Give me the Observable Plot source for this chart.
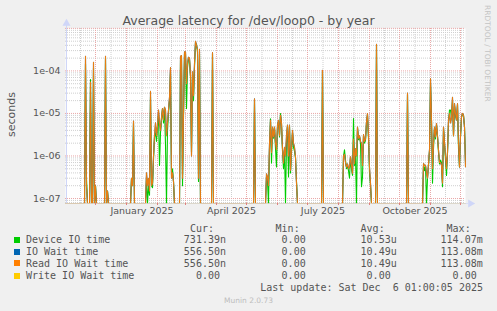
<!DOCTYPE html>
<html><head><meta charset="utf-8">
<script src="https://cdn.jsdelivr.net/npm/d3@7"></script>
<script src="https://cdn.jsdelivr.net/npm/@observablehq/plot@0.6"></script>
<style>
html,body{margin:0;padding:0;background:#f0f0f0;}
#chart{position:relative;width:497px;height:311px;background:#f0f0f0;overflow:hidden;font-family:"DejaVu Sans",sans-serif;color:#555;}
#plot{position:absolute;left:0;top:0;}
.t{position:absolute;white-space:pre;}
.mono{font-family:"DejaVu Sans Mono",monospace;font-size:10px;line-height:12px;color:#555;}
.sw{position:absolute;width:6px;height:6px;}
</style></head><body>
<div id="chart">
  <div id="plot"></div>
  <div class="t" style="left:0;width:497px;text-align:center;top:14px;font-size:12.5px;line-height:13px;color:#555;">Average latency for /dev/loop0 - by year</div>
  <div class="t" style="left:-19px;top:108px;width:60px;text-align:center;font-size:11px;line-height:13px;transform:rotate(-90deg);color:#555;">seconds</div>
  <div class="t" style="left:483px;top:5px;writing-mode:vertical-rl;font-size:7.5px;line-height:9px;color:#c4c4c4;">RRDTOOL / TOBI OETIKER</div>
  <div id="legend"></div>
  <div class="t" style="left:0;width:497px;text-align:center;top:295.6px;font-size:7.5px;line-height:9px;color:#bdbdbd;">Munin 2.0.73</div>
</div>
<script>
// ---- data (day offset from 2024-11-01, one value per day) ----
const days = [
  0,19,20,21,22,24,25,26,27,28,29,30,31,39,40,41,42,43,
  65,66,67,68,69,
  80,81,82,83,84,85,86,87,88,89,90,91,92,93,94,95,96,97,98,99,100,101,102,103,104,105,106,107,108,109,
  114,115,116,117,118,119,120,121,122,123,124,125,126,127,128,129,130,131,132,133,134,135,
  146,147,148,
  188,189,190,
  200,201,202,203,204,205,206,207,208,209,210,211,212,213,214,215,216,217,218,219,220,221,222,223,224,225,226,227,228,229,230,231,232,
  256,257,258,
  277,278,279,280,281,282,283,284,285,286,287,288,289,290,291,292,293,294,295,296,297,298,299,300,301,302,303,304,305,306,
  310,311,312,
  341,342,343,
  357,358,359,360,361,362,363,364,365,366,367,368,369,370,371,372,373,374,375,376,377,378,379,380,381,382,383,384,385,386,387,388,389,390,391,392,393,394,395,396,397,398,399,400
];
const readWait = [
  0,0,2.2e-4,2e-7,0,0,5.5e-5,0,0,1.6e-4,0,2e-7,0,0,2.2e-4,0,1.5e-7,0,
  0,3e-7,2e-7,6.6e-6,0,
  0,4e-7,2e-7,3e-7,1.5e-7,3.3e-5,2e-7,2.3e-7,1e-6,3e-6,6e-6,3e-6,5e-6,1.2e-5,6e-6,4e-6,8e-6,1.3e-5,7e-6,1.4e-5,1.2e-5,3e-6,6e-6,1.2e-5,2.4e-5,1.2e-4,3e-7,4e-7,2.5e-7,0,
  0,2.2e-4,2.3e-4,3e-7,1e-5,2.8e-4,2.8e-4,5e-5,1.5e-4,2.1e-4,2e-4,8e-5,1e-6,9.5e-5,2.6e-5,1.5e-4,5e-4,4e-4,3.2e-4,3e-7,3.2e-4,0,
  0,2.7e-4,0,
  0,2.2e-5,0,
  0,3.8e-7,3.2e-7,2e-7,2e-6,6.9e-6,1.2e-6,4.8e-6,2.8e-6,4.8e-6,2e-6,1.4e-6,5.3e-6,6.9e-6,3e-6,9.1e-6,6e-6,1.5e-6,6.8e-7,1.6e-6,1e-6,3e-6,5.3e-6,1e-6,5.3e-6,4.6e-7,1.5e-6,4e-6,2e-6,1.6e-6,9.5e-7,2.3e-7,0,
  0,1.04e-4,0,
  0,1e-6,1.1e-6,7e-7,5.5e-7,6.5e-7,5e-7,5.5e-7,9.5e-7,6e-7,3.9e-7,2.5e-6,6.6e-7,1.5e-6,1e-6,4.8e-6,2.6e-6,3e-6,2.2e-6,2e-6,6e-7,3.2e-6,2.2e-6,2.5e-6,6.3e-6,1e-5,3e-6,5.5e-7,2.3e-7,0,
  0,4.2e-4,0,
  0,3e-5,0,
  0,6.6e-7,6e-7,6e-7,4e-7,3e-7,6.5e-7,1.4e-6,6.6e-5,7e-6,5e-7,2e-6,4.8e-6,2.8e-6,5.8e-6,3e-6,1.4e-6,7e-7,7e-7,6e-7,2.3e-7,4.8e-6,2e-6,1e-6,5e-7,1.2e-6,7e-6,1e-5,6e-6,8e-6,2.4e-5,3e-6,1.7e-5,1e-5,7e-6,1.7e-5,2e-6,5.5e-7,3e-6,8.3e-6,1e-5,9e-6,4.8e-6,5.565e-7
];
const deviceIO = [
  0,0,1.5e-4,3e-7,0,0,6.3e-5,0,0,1.2e-4,0,2e-7,0,0,2e-4,0,1.5e-7,0,
  0,3e-7,2e-7,6e-6,0,
  0,3e-7,0,2e-7,1.2e-7,2.5e-5,2e-7,1.8e-7,8e-7,2.8e-6,3.5e-6,2.2e-6,5e-6,9e-6,6e-7,3.5e-6,7e-6,1.3e-5,6e-6,1.4e-5,1.8e-6,0,4e-6,1e-5,2e-5,9e-5,3.5e-7,5e-7,2.5e-7,0,
  0,1.8e-4,2e-4,2e-7,8e-6,2.5e-4,2.5e-4,1.3e-5,1.2e-4,1.9e-4,1.8e-4,7e-5,1.2e-6,8e-5,2e-5,1.2e-4,4.5e-4,4.2e-4,2.8e-4,2.5e-7,2.5e-4,0,
  0,2.5e-4,0,
  0,2e-5,0,
  0,3.2e-7,2.5e-7,0,1.5e-6,7.5e-6,6.8e-7,4.5e-6,2.6e-6,4.5e-6,1.5e-6,5.5e-7,4.8e-6,6.5e-6,2.8e-6,1e-5,5.5e-6,1.3e-6,5e-7,1.4e-6,0,2e-6,5e-6,3.2e-7,5e-6,4e-7,1.2e-6,3.5e-6,1.6e-6,1.3e-6,9e-7,2.5e-7,0,
  0,1e-4,0,
  0,1e-6,1.4e-6,8e-7,5e-7,6e-7,4.5e-7,3e-7,9e-7,5e-7,3.5e-7,7.6e-6,6e-7,1e-6,0,4.5e-6,2.4e-6,2.8e-6,2e-6,1.9e-7,3.2e-7,3e-6,2e-6,2.3e-6,6e-6,9e-6,2.5e-6,4e-7,2e-7,0,
  0,4e-4,0,
  0,2.8e-5,0,
  0,6e-7,4.5e-7,6e-7,0,3e-7,6e-7,1.3e-6,5e-5,7e-6,2.3e-7,1.5e-6,4.5e-6,2.5e-6,5.5e-6,2.8e-6,1.2e-6,6.5e-7,8e-7,7e-7,1.9e-7,4.5e-6,2e-6,8e-7,3.5e-7,1.2e-6,6e-6,1.2e-5,1.2e-5,8e-6,2e-5,3e-6,1.5e-5,9e-6,7e-6,1.6e-5,1.5e-6,5.5e-7,2.8e-6,8e-6,1e-5,9e-6,5e-6,7.3139e-7
];
const ioWait = [...readWait];          // IO Wait time is identical to Read IO Wait time
const writeDays = [0, 400];
const writeWait = [0, 0];

const startDate = new Date("2024-11-01T00:00:00Z");
const endDate = new Date("2025-12-06T00:00:00Z");
const monthStarts = ["2024-12-01","2025-01-01","2025-02-01","2025-03-01","2025-04-01","2025-05-01","2025-06-01","2025-07-01","2025-08-01","2025-09-01","2025-10-01","2025-11-01","2025-12-01"].map(s => new Date(s + "T00:00:00Z"));
const midMonths = ["2024-11-16T00","2024-12-16T12","2025-01-16T12","2025-02-15T00","2025-03-16T12","2025-04-16T00","2025-05-16T12","2025-06-16T00","2025-07-16T12","2025-08-16T12","2025-09-16T00","2025-10-16T12","2025-11-16T00"].map(s => new Date(s + ":00:00Z"));
const labelDates = ["2025-01-16T12","2025-04-16T00","2025-07-16T12","2025-10-16T12"].map(s => new Date(s + ":00:00Z"));
const yMajor = [1e-7, 1e-6, 1e-5, 1e-4, 1e-3];
const yLabelTicks = [1e-7, 1e-6, 1e-5, 1e-4];
const yDomain = [Math.pow(10, -7.1176), Math.pow(10, -3.003)];

const legendNames = ["Device IO time", "IO Wait time", "Read IO Wait time", "Write IO Wait time"];
const legendColors = ["#00CC00", "#0066B3", "#FF8000", "#FFCC00"];
const legendCur = ["731.39n", "556.50n", "556.50n", "0.00 "];
const legendMin = ["0.00 ", "0.00 ", "0.00 ", "0.00 "];
const legendAvg = ["10.53u", "10.49u", "10.49u", "0.00 "];
const legendMax = ["114.07m", "113.08m", "113.08m", "0.00 "];
const lastUpdate = "Last update: Sat Dec  6 01:00:05 2025";

// ---- build ----
const toDate = d => d3.utcDay.offset(startDate, d);
const rows = days.map((d, i) => ({date: toDate(d), device: deviceIO[i], io: ioWait[i], read: readWait[i]}));
const writeRows = writeDays.map((d, i) => ({date: toDate(d), v: writeWait[i]}));
const fl = v => Math.max(v, yDomain[0]);
const minorY = d3.scaleLog().domain(yDomain).ticks().filter(v => !yMajor.some(m => Math.abs(m - v) / m < 1e-9));
const expFmt = v => { const e = Math.round(Math.log10(v)); return "1e" + (e < 0 ? "-" : "+") + String(Math.abs(e)).padStart(2, "0"); };

const grid = "#cfcfcf", mgrid = "#eaa8a8", axisCol = "#CFD6F8";
const chart = Plot.plot({
  width: 497, height: 222,
  marginLeft: 65, marginRight: 32, marginTop: 28, marginBottom: 19,
  style: {background: "transparent", fontFamily: "DejaVu Sans", overflow: "visible"},
  x: {type: "utc", domain: [startDate, endDate]},
  y: {type: "log", domain: yDomain},
  marks: [
    Plot.frame({fill: "#ffffff", stroke: null}),
    Plot.ruleY(minorY, {stroke: grid, strokeDasharray: "1,1"}),
    Plot.ruleX(midMonths, {stroke: grid, strokeDasharray: "1,1"}),
    Plot.ruleY(yMajor, {stroke: mgrid, strokeDasharray: "1,1"}),
    Plot.ruleX(monthStarts, {stroke: mgrid, strokeDasharray: "1,1"}),
    Plot.lineY(rows, {x: "date", y: d => fl(d.device), stroke: legendColors[0], strokeWidth: 1.1}),
    Plot.lineY(rows, {x: "date", y: d => fl(d.io), stroke: legendColors[1], strokeWidth: 1.1}),
    Plot.lineY(rows, {x: "date", y: d => fl(d.read), stroke: legendColors[2], strokeWidth: 1.1, strokeOpacity: 0.9}),
    Plot.lineY(writeRows, {x: "date", y: d => fl(d.v), stroke: legendColors[3], strokeWidth: 1, strokeOpacity: 0.6}),
    Plot.ruleX([startDate], {stroke: axisCol, dx: 1, insetTop: -5}),
    Plot.ruleY([yDomain[0]], {stroke: axisCol, strokeOpacity: 0.7, insetRight: -3}),
    Plot.dot([startDate], {x: d => d, y: () => yDomain[1], dx: 1, dy: -5, symbol: "triangle", r: 3, fill: axisCol, stroke: null}),
    Plot.dot([endDate], {x: d => d, y: () => yDomain[0], dx: 5, symbol: "triangle", rotate: 90, r: 3, fill: axisCol, stroke: null}),
    Plot.axisX({ticks: monthStarts, tickSize: 2, stroke: "#e08080", tickFormat: () => "", label: null}),
    Plot.axisY({ticks: yLabelTicks, tickFormat: expFmt, tickSize: 0, tickPadding: 5, fontSize: 9.5, fill: "#555", label: null}),
    Plot.axisX({ticks: labelDates, tickFormat: d3.utcFormat("%B %Y"), tickSize: 0, tickPadding: 4, fontSize: 9.5, fill: "#555", label: null})
  ]
});
document.getElementById("plot").appendChild(chart);

// ---- legend ----
const lg = document.getElementById("legend");
const rowTops = [233.9, 245.9, 257.5, 269.9];
function span(text, css) { const s = document.createElement("div"); s.className = "t mono"; s.textContent = text; s.style.cssText += css; lg.appendChild(s); }
const cols = [226, 311.7, 396.7, 482.7];
["Cur:  ", "Min:  ", "Avg:  ", "Max:  "].forEach((h, j) => span(h, `top:222.5px;right:${497 - cols[j]}px;`));
legendNames.forEach((name, i) => {
  const sw = document.createElement("div"); sw.className = "sw";
  sw.style.cssText += `left:14px;top:${rowTops[i] + 2.8}px;background:${legendColors[i]};`;
  lg.appendChild(sw);
  span(name, `top:${rowTops[i]}px;left:26px;`);
  [legendCur[i], legendMin[i], legendAvg[i], legendMax[i]].forEach((v, j) => span(v, `top:${rowTops[i]}px;right:${497 - cols[j]}px;`));
});
span(lastUpdate, `top:281.9px;right:${497 - 483}px;`);
</script>
</body></html>
